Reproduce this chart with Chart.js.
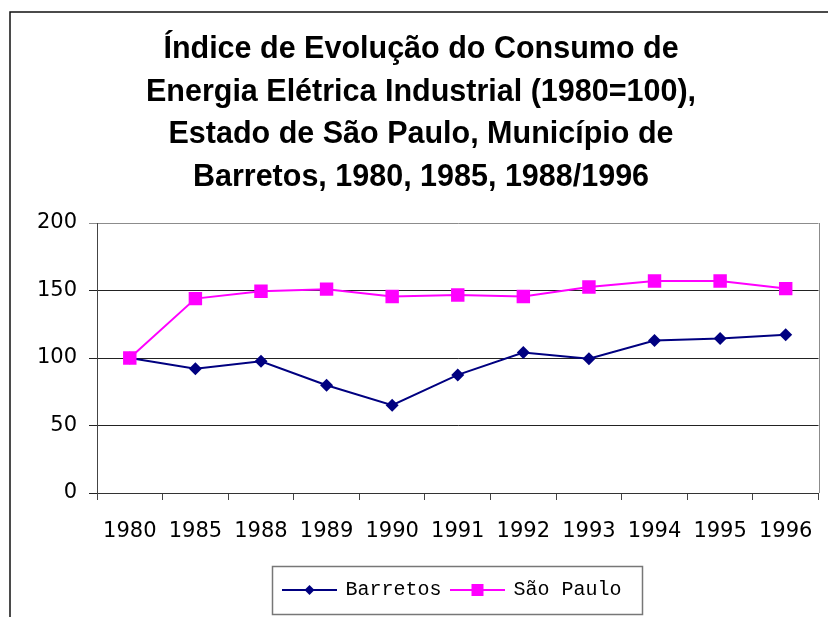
<!DOCTYPE html>
<html>
<head>
<meta charset="utf-8">
<script src="https://cdn.jsdelivr.net/npm/chart.js@4/dist/chart.umd.min.js"></script>
<style>
  html, body { margin: 0; padding: 0; background: #fff; }
  #wrap { width: 828px; height: 617px; }
</style>
</head>
<body>
<div id="wrap"><canvas id="chart" width="828" height="617"></canvas></div>
<script>
// === Data ===
const years = ["1980", "1985", "1988", "1989", "1990", "1991", "1992", "1993", "1994", "1995", "1996"];
const barretos = [100, 92, 97.6, 79.8, 65, 87.5, 104, 99.5, 113, 114.5, 117.2];
const saoPaulo = [100, 144, 149.5, 151, 145.5, 146.7, 145.5, 152.6, 157, 157, 151.4];
const yTicks = [0, 50, 100, 150, 200];

const titleLines = [
  "Índice de Evolução do Consumo de",
  "Energia Elétrica Industrial (1980=100),",
  "Estado de São Paulo, Município de",
  "Barretos, 1980, 1985, 1988/1996",
];

const NAVY = "#000080";
const MAGENTA = "#ff00ff";

// === Legend symbols (line with marker in the middle) ===
function legendSymbol(color, shape) {
  const c = document.createElement("canvas");
  c.width = 55;
  c.height = 16;
  const g = c.getContext("2d");
  g.strokeStyle = color;
  g.lineWidth = 2;
  g.beginPath();
  g.moveTo(0, 8);
  g.lineTo(55, 8);
  g.stroke();
  g.fillStyle = color;
  g.beginPath();
  if (shape === "diamond") {
    g.moveTo(27.5, 3);
    g.lineTo(32.5, 8);
    g.lineTo(27.5, 13);
    g.lineTo(22.5, 8);
  } else {
    g.rect(21.5, 2, 12, 12);
  }
  g.closePath();
  g.fill();
  return c;
}
const symBarretos = legendSymbol(NAVY, "diamond");
const symSaoPaulo = legendSymbol(MAGENTA, "square");

// === Frame, plot border and legend box ===
const decorations = {
  id: "decorations",
  afterLayout(chart) {
    // legend is centred under the plot area, not the canvas
    chart.legend.left += 31.5;
    chart.legend.right += 31.5;
  },
  beforeDraw(chart) {
    const ctx = chart.ctx;
    ctx.save();
    ctx.strokeStyle = "#111";
    ctx.lineWidth = 1.5;
    ctx.beginPath();
    ctx.moveTo(10, 617);
    ctx.lineTo(10, 12);
    ctx.lineTo(828, 12);
    ctx.stroke();
    ctx.restore();
  },
  afterDraw(chart) {
    const ctx = chart.ctx;
    const a = chart.chartArea;
    ctx.save();
    ctx.strokeStyle = "#8c8c8c";
    ctx.lineWidth = 1;
    ctx.beginPath();
    ctx.moveTo(Math.round(a.right) + 0.5, a.top);
    ctx.lineTo(Math.round(a.right) + 0.5, a.bottom);
    ctx.stroke();

    const hb = chart.legend.legendHitBoxes;
    if (hb && hb.length) {
      const x0 = Math.round(hb[0].left - 11) + 0.5;
      const x1 = Math.round(hb[hb.length - 1].left + hb[hb.length - 1].width + 20) + 0.5;
      const y0 = Math.round(hb[0].top - 14) + 0.5;
      const y1 = Math.round(hb[0].top + hb[0].height + 14) + 0.5;
      ctx.strokeStyle = "#777";
      ctx.lineWidth = 1.5;
      ctx.strokeRect(x0, y0, x1 - x0, y1 - y0);
    }
    ctx.restore();
  },
};

// === Chart ===
const ctx = document.getElementById("chart").getContext("2d");
new Chart(ctx, {
  type: "line",
  data: {
    labels: years,
    datasets: [
      {
        label: "Barretos",
        data: barretos,
        borderColor: NAVY,
        backgroundColor: NAVY,
        borderWidth: 2,
        pointStyle: "rectRot",
        pointRadius: 6.5,
        pointBorderWidth: 0,
        tension: 0,
        order: 1,
      },
      {
        label: "São Paulo",
        data: saoPaulo,
        borderColor: MAGENTA,
        backgroundColor: MAGENTA,
        borderWidth: 2,
        pointStyle: "rect",
        pointRadius: 9.5,
        pointBorderWidth: 0,
        tension: 0,
        order: 0,
      },
    ],
  },
  options: {
    responsive: false,
    animation: false,
    devicePixelRatio: 1,
    layout: { padding: { left: 23, right: 9, top: 0, bottom: 7 } },
    plugins: {
      title: {
        display: true,
        text: titleLines,
        color: "#000",
        font: { family: "Liberation Sans", weight: "bold", size: 30.5, lineHeight: "42.5px" },
        padding: { top: 28.75, bottom: 24.25 },
      },
      legend: {
        position: "bottom",
        labels: {
          color: "#000",
          font: { family: "Liberation Mono", size: 20 },
          usePointStyle: true,
          pointStyleWidth: 52,
          padding: 10,
          sort: (a, b) => a.datasetIndex - b.datasetIndex,
          generateLabels(chart) {
            const items = Chart.defaults.plugins.legend.labels.generateLabels(chart);
            items.forEach((it) => {
              it.pointStyle = it.datasetIndex === 0 ? symBarretos : symSaoPaulo;
            });
            return items;
          },
        },
      },
      tooltip: { enabled: false },
    },
    scales: {
      x: {
        offset: true,
        grid: {
          offset: true,
          drawOnChartArea: false,
          drawTicks: true,
          tickLength: 7,
          color: "#444",
        },
        border: { color: "#333", width: 1 },
        ticks: {
          color: "#000",
          font: { family: "DejaVu Sans", size: 21 },
          padding: 19,
          maxRotation: 0,
          autoSkip: false,
        },
        afterFit(scale) {
          scale.height = 77;
          // keep the plot right edge where the layout padding puts it
          scale.paddingLeft = 0;
          scale.paddingRight = 0;
        },
      },
      y: {
        min: 0,
        max: 200,
        afterBuildTicks(scale) {
          scale.ticks = yTicks.map((v) => ({ value: v }));
        },
        grid: {
          color: (c) => (c.tick && c.tick.value === 200 ? "#8c8c8c" : "#222"),
          tickLength: 8,
          drawTicks: true,
        },
        border: { color: "#444", width: 1 },
        ticks: {
          color: "#000",
          font: { family: "DejaVu Sans", size: 21 },
          padding: 12,
        },
        afterFit(scale) {
          scale.width = 74;
        },
      },
    },
  },
  plugins: [decorations],
});
</script>
</body>
</html>
